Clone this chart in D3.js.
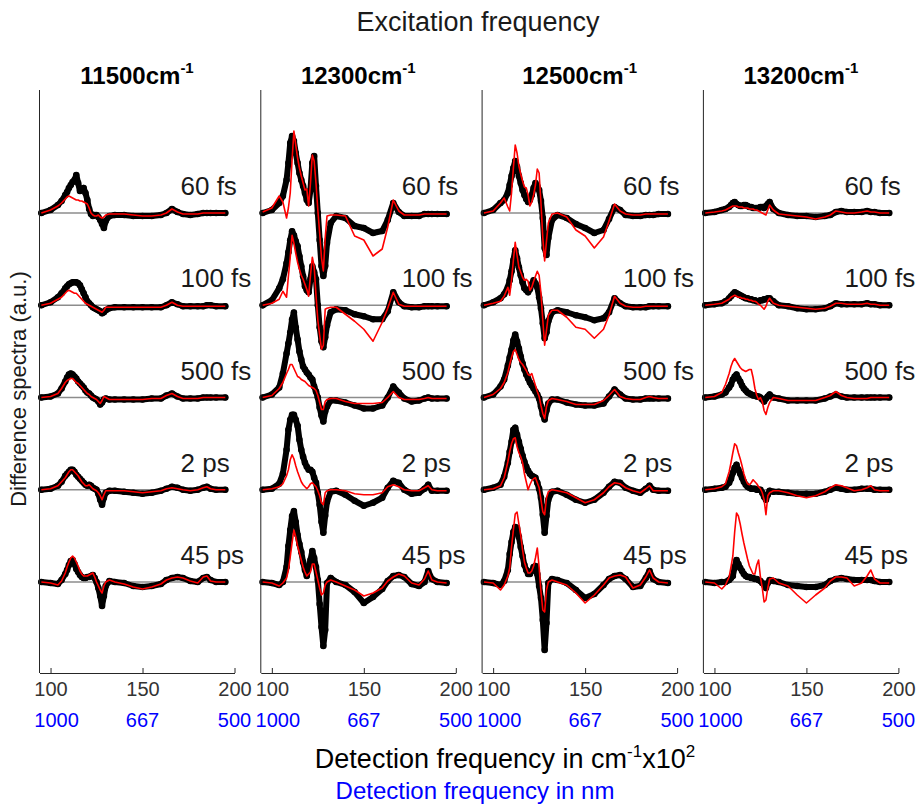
<!DOCTYPE html>
<html><head><meta charset="utf-8">
<script src="https://cdn.jsdelivr.net/npm/d3@7"></script>
<style>body{margin:0;background:#fff} text{font-family:"Liberation Sans",Arial,sans-serif}</style>
</head><body><svg id="c" width="921" height="807"></svg>
<script>
// Detection frequency (cm^-1 x10^2)
const detX = [95,100,104,106,108,109,110,111,112,113,114,115,116,117,118,119,120,121,122,123,124,125,126,127,128,129,130,132,135,140,145,150,155,160,163,166,169,172,176,180,183,185,187,190,195];
const excitations = ["11500","12300","12500","13200"];
const delays = ["60 fs","100 fs","500 fs","2 ps","45 ps"];
const xTicks = [100,150,200];
const nmTicks = ["1000","667","500"];

// Experiment (black dots), one row per delay
const exp11500 = [
 [0,3,8,12,18,21,25,28,31,33,38,30,22,23,25,20,13,4,-1,-3,-2,-2,-4,-7,-11,-15,-8,-3,-2,-2,-3,-3,-3,-2,0,4,1,-1,-2,-1,0,0,0,0,0],
 [0,3,8,12,17,19,21,22,23,23,23,22,20,16,12,8,4,2,0,-2,-3,-4,-5,-6,-8,-7,-5,-3,-2,-2,-2,-2,-2,-2,0,3,1,-1,-1,-1,-1,0,0,-1,-1],
 [0,1,4,9,16,20,23,24,23,21,19,16,14,12,10,7,5,4,2,0,-1,-2,-4,-7,-5,-2,-1,-2,-2,-2,-2,-2,-1,-1,2,4,1,-1,-1,-1,0,0,0,0,0],
 [0,1,4,8,14,16,18,20,20,18,15,13,11,9,7,5,4,5,4,2,1,0,-4,-10,-15,-8,-3,-1,-1,-2,-3,-4,-3,-1,1,3,2,0,-1,0,2,3,1,0,0],
 [0,-1,-2,2,8,12,17,21,22,18,13,10,7,5,4,4,5,5,6,7,4,0,-6,-14,-24,-14,-4,1,0,-1,-4,-5,-4,-2,2,4,5,4,1,0,4,5,2,0,0]
];
const exp12300 = [
 [0,3,10,17,33,50,70,77,72,60,50,40,33,27,20,13,10,23,50,57,27,0,-27,-53,-63,-53,-30,-10,-3,-5,-13,-15,-20,-18,-7,10,1,-3,-3,-3,-1,-1,-1,-1,-1],
 [0,5,17,26,42,53,65,74,70,64,59,49,39,29,19,15,13,26,39,33,26,0,-22,-36,-42,-32,-20,-7,-4,-5,-9,-11,-14,-14,-6,13,3,-1,-2,-2,-1,-1,-1,-1,-1],
 [0,3,10,24,44,54,65,78,85,70,58,46,38,31,28,25,23,20,18,11,6,0,-10,-18,-24,-14,-9,-3,-3,-5,-8,-11,-11,-8,0,11,5,-1,-4,-3,-1,0,-1,-1,-1],
 [0,1,6,16,40,60,70,75,75,70,64,50,40,33,27,23,20,20,18,12,7,-3,-15,-32,-43,-26,-12,-2,-1,-5,-11,-16,-13,-8,2,9,7,0,-4,-3,1,5,-1,-1,-1],
 [0,-1,-3,0,15,36,52,66,71,60,47,38,30,20,12,6,14,22,31,24,15,2,-22,-45,-64,-48,-1,4,0,-3,-10,-21,-15,-7,1,6,7,5,-2,-4,0,11,3,0,-1]
];
const exp12500 = [
 [0,3,10,13,20,28,37,45,52,46,37,30,23,18,14,11,13,18,25,30,27,23,12,-5,-35,-42,-25,-7,-2,-5,-11,-15,-20,-17,-6,6,3,-2,-3,-3,-2,-2,-2,-1,-1],
 [0,3,7,11,18,25,34,45,55,47,38,30,23,17,15,13,16,21,25,22,18,8,-3,-18,-33,-27,-16,-7,-5,-7,-10,-12,-15,-13,-7,7,2,-1,-2,-2,-2,-1,-1,-1,-1],
 [0,3,11,18,32,40,48,57,63,56,49,41,34,28,23,19,15,12,9,6,3,-1,-9,-17,-22,-13,-6,-2,-2,-5,-7,-8,-8,-6,1,8,3,-1,-2,-2,-1,-1,-1,-1,-1],
 [0,2,5,13,27,38,48,60,62,55,48,41,34,28,23,19,16,14,13,12,7,1,-8,-25,-43,-26,-10,-2,-1,-5,-10,-13,-10,-3,3,8,7,2,-1,-3,1,4,0,-1,-1],
 [0,-1,-3,1,12,28,40,50,55,54,45,35,26,17,12,8,8,11,15,16,8,-4,-16,-38,-68,-41,-1,3,2,-1,-8,-16,-12,-3,3,6,7,3,-5,-4,4,11,3,0,-1]
];
const exp13200 = [
 [0,1,3,4,6,8,10,11,9,8,7,7,8,8,7,6,6,5,5,5,5,6,6,5,7,9,11,4,0,-2,-3,-3,-4,-3,-2,1,2,1,1,1,2,1,1,0,0],
 [0,1,2,4,7,9,11,13,12,11,10,9,8,7,7,6,6,5,5,4,4,5,5,6,6,7,7,4,0,-1,-3,-4,-4,-3,-1,2,1,1,1,1,2,1,1,0,0],
 [0,1,3,5,10,13,18,21,23,19,16,12,9,7,5,4,3,2,2,1,1,0,-2,-4,-1,1,3,0,-1,-3,-3,-3,-3,-1,1,3,1,0,0,0,0,0,0,0,0],
 [0,1,2,3,7,11,17,22,25,20,16,12,8,5,3,2,1,1,1,0,0,0,-3,-7,-10,-5,-1,-2,-2,-3,-4,-4,-4,-2,0,2,1,0,0,1,1,1,0,0,0],
 [0,-1,0,0,2,4,6,15,22,18,14,11,8,6,5,5,4,4,3,3,2,1,-1,-3,-6,-1,2,1,0,-3,-4,-5,-5,-3,1,3,4,3,2,2,2,2,1,0,0]
];

// Theory (red lines), one row per delay
const theo11500 = [
 [0,3,7,10,14,16,17,16,15,14,13,13,12,12,11,10,9,5,0,-2,-3,-3,-2,-4,-5,-4,-2,-1,-1,-1,-2,-3,-3,-2,0,4,1,-1,-1,-1,0,0,0,0,0],
 [0,2,6,8,12,14,15,14,13,12,12,10,8,6,4,2,1,0,-1,-2,-3,-4,-5,-6,-7,-5,-2,-2,-2,-2,-2,-2,-2,-2,0,3,0,-1,-1,-1,-1,-1,-1,-1,-1],
 [0,1,4,9,15,17,18,19,19,17,15,14,12,10,8,6,4,3,1,0,-1,-2,-4,-6,-3,1,0,-2,-2,-2,-2,-2,-1,-1,2,4,1,-1,-1,-1,0,0,0,0,0],
 [0,1,4,8,12,15,18,20,20,18,16,14,11,8,6,4,4,5,3,1,0,-1,-3,-6,-10,-5,-1,-1,-1,-1,-2,-3,-2,-1,1,2,1,0,-1,0,2,3,1,0,0],
 [0,-1,-3,1,9,15,20,24,26,24,20,16,11,8,6,6,6,7,8,9,5,0,-4,-8,-11,-4,0,2,0,-2,-5,-7,-5,-2,2,4,5,4,1,-1,5,6,1,0,0]
];
const theo12300 = [
 [1,5,17,11,-5,5,20,53,82,68,55,45,37,30,23,24,7,30,58,52,30,3,-20,-45,-58,-25,-3,-2,-2,-3,-23,-27,-43,-36,-14,13,2,-2,-2,-2,-1,-1,-1,-1,-1],
 [0,2,6,14,8,29,48,70,62,52,43,36,30,26,21,16,9,30,48,39,10,-15,-30,-44,-40,-4,-3,-2,-2,-9,-16,-24,-36,-17,-3,13,1,-1,-1,-1,-1,-1,-1,-1,-1],
 [0,2,9,15,24,28,33,33,29,25,21,20,18,17,16,14,12,11,10,9,7,2,-5,-12,-12,-4,-2,-1,-1,-4,-6,-6,-6,-5,0,6,0,-2,-2,-2,-1,0,-1,-1,-1],
 [0,1,3,6,14,20,30,35,31,24,18,13,8,5,3,1,3,6,7,5,3,-1,-6,-13,-15,-3,-1,0,0,-1,-4,-5,-5,-3,3,5,3,0,-1,-1,2,4,0,-1,-1],
 [0,-1,-4,-1,4,12,25,39,52,45,36,29,22,15,10,6,8,10,18,18,10,2,-6,-13,-11,-3,0,2,0,-4,-8,-14,-11,-6,1,5,8,6,-1,-3,3,11,2,0,-1]
];
const theo12500 = [
 [0,2,10,15,6,2,20,45,68,60,47,39,32,26,25,18,7,11,18,28,44,40,10,-25,-48,-28,-10,-1,0,-4,-17,-23,-35,-24,-8,9,2,-1,-2,-2,-1,-1,-1,-1,-1],
 [0,2,4,9,18,10,25,45,63,50,38,33,28,25,26,24,15,18,24,29,34,30,12,-15,-40,-25,-10,-5,-5,-12,-22,-24,-33,-24,-10,9,2,-1,-2,-2,-1,-1,-1,-1,-1],
 [0,3,9,15,25,33,40,46,48,43,38,35,33,30,27,23,22,24,18,12,6,1,-8,-16,-21,-9,-3,-1,-2,-4,-7,-7,-7,-3,2,8,1,-1,-2,-2,0,1,0,-1,-1],
 [0,1,4,12,28,38,46,51,52,43,37,33,27,16,8,0,5,9,11,12,7,2,-10,-22,-25,-8,-2,0,-1,-3,-8,-13,-10,-3,3,7,6,2,-1,-3,1,4,-1,-1,-1],
 [0,-1,-8,-3,6,14,35,52,68,70,58,47,32,20,14,9,9,11,16,24,34,15,-10,-28,-30,-8,0,2,0,-3,-11,-21,-13,-3,4,6,7,5,-6,-3,5,12,4,0,-1]
];
const theo13200 = [
 [0,1,2,3,5,6,7,7,7,6,6,6,5,5,5,4,4,4,3,3,2,1,0,-1,-2,3,8,3,-1,-2,-3,-4,-6,-4,-2,2,1,0,0,1,2,1,1,0,0],
 [0,1,2,4,6,8,9,10,9,8,8,7,7,6,6,5,5,4,4,3,1,0,-2,-4,-1,4,7,2,0,-1,-2,-3,-4,-3,-1,2,2,1,1,1,2,1,1,0,0],
 [0,1,5,13,24,31,36,39,36,33,30,28,27,26,27,28,28,20,9,2,-2,0,-4,-13,-17,-10,-5,0,-1,-3,-3,-3,-3,0,2,6,2,0,-1,-1,-1,0,0,0,0],
 [0,1,3,6,18,27,37,46,44,37,31,24,16,10,6,5,7,10,8,6,3,1,-3,-10,-25,-6,-3,-1,-1,-3,-6,-8,-6,-2,2,5,4,2,-1,0,2,4,0,-1,-1],
 [0,-1,-7,-3,5,15,26,50,69,66,58,48,39,31,23,16,12,8,8,17,22,5,-6,-20,-18,-6,3,4,-1,-4,-13,-21,-13,-6,1,5,5,4,-4,-1,6,12,3,-1,-1]
];
const expData = [exp11500, exp12300, exp12500, exp13200];
const theoData = [theo11500, theo12300, theo12500, theo13200];

const svg = d3.select("#c");
const left0 = 39.5, step = 221.3, panelW = 195;
const yTop = 90, yBot = 673;
const base = d3.scalePoint().domain(delays).range([213, 582]);
const amp = d3.scaleLinear().domain([0, 100]).range([0, -100]);
const axisColor = "#262626";
const font = '"Liberation Sans",Arial,sans-serif';

excitations.forEach((ex, p) => {
  const left = left0 + p * step;
  const x = d3.scaleLinear().domain([94, 200]).range([left, left + panelW]);
  const g = svg.append("g");

  delays.forEach(d => {
    g.append("line").attr("x1", x(detX[0])).attr("x2", x(detX[detX.length-1]))
      .attr("y1", base(d)).attr("y2", base(d)).attr("stroke", "#8c8c8c").attr("stroke-width", 1.6);
  });

  delays.forEach((d, k) => {
    const line = d3.line().x((v, i) => x(detX[i])).y(v => base(d) + amp(v));
    const ev = expData[p][k], tv = theoData[p][k];
    g.append("path").attr("d", line(ev)).attr("fill", "none").attr("stroke", "#000")
      .attr("stroke-width", 6).attr("stroke-linejoin", "round").attr("stroke-linecap", "round");
    g.selectAll(null).data(ev).enter().append("circle")
      .attr("cx", (v, i) => x(detX[i])).attr("cy", v => base(d) + amp(v)).attr("r", 3.3).attr("fill", "#000");
    g.append("path").attr("d", line(tv)).attr("fill", "none").attr("stroke", "#ff0000")
      .attr("stroke-width", 1.6).attr("stroke-linejoin", "round");
    g.append("text").attr("x", left + 141).attr("y", base(d) - 18)
      .attr("font-size", 26).attr("fill", "#1a1a1a").text(d);
  });

  g.append("line").attr("x1", left).attr("x2", left).attr("y1", yTop).attr("y2", yBot)
    .attr("stroke", axisColor).attr("stroke-width", 1);
  const ax = g.append("g").attr("transform", `translate(0,${yBot})`)
    .call(d3.axisBottom(x).tickValues(xTicks).tickSizeInner(-5).tickSizeOuter(0).tickPadding(9));
  ax.select(".domain").attr("stroke", axisColor);
  ax.selectAll(".tick line").attr("stroke", axisColor);
  ax.selectAll(".tick text").attr("font-size", 20).attr("fill", "#333").attr("font-family", font);

  g.selectAll(null).data(nmTicks).enter().append("text")
    .attr("x", (t, i) => x(xTicks[i]) + (i === 0 ? 6 : 0)).attr("y", 727).attr("text-anchor", "middle")
    .attr("font-size", 20).attr("fill", "#0000ff").text(t => t);

  const t = g.append("text").attr("x", left + panelW / 2).attr("y", 84).attr("text-anchor", "middle")
    .attr("font-size", 24).attr("font-weight", "bold").attr("fill", "#000");
  t.append("tspan").text(ex + "cm");
  t.append("tspan").attr("dy", -11).attr("font-size", 15).text("-1");
});

svg.append("text").attr("x", 478).attr("y", 31).attr("text-anchor", "middle")
  .attr("font-size", 27).attr("fill", "#1a1a1a").text("Excitation frequency");
const xl = svg.append("text").attr("x", 505).attr("y", 768).attr("text-anchor", "middle")
  .attr("font-size", 27).attr("fill", "#000");
xl.append("tspan").text("Detection frequency in cm");
xl.append("tspan").attr("dy", -11).attr("font-size", 17).text("-1");
xl.append("tspan").attr("dy", 11).text("x10");
xl.append("tspan").attr("dy", -11).attr("font-size", 17).text("2");
svg.append("text").attr("x", 475).attr("y", 799).attr("text-anchor", "middle")
  .attr("font-size", 24).attr("fill", "#0000ff").text("Detection frequency in nm");
svg.append("text").attr("transform", "translate(26,389) rotate(-90)").attr("text-anchor", "middle")
  .attr("font-size", 22).attr("fill", "#1a1a1a").text("Difference spectra (a.u.)");
</script></body></html>
